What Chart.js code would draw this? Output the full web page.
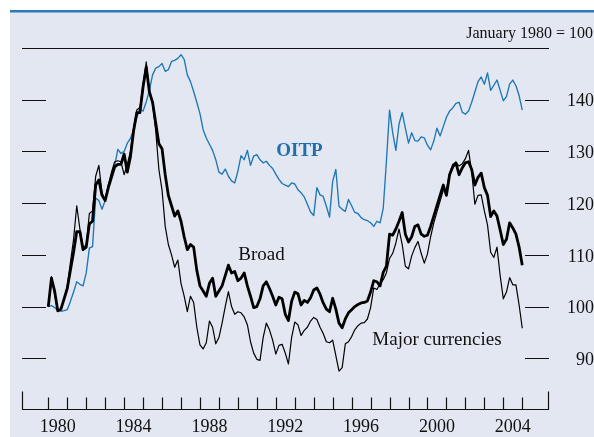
<!DOCTYPE html>
<html>
<head>
<meta charset="utf-8">
<script src="https://cdn.jsdelivr.net/npm/chart.js@4.4.1/dist/chart.umd.min.js"></script>
<style>
  html, body { margin: 0; padding: 0; background: #fff; }
  canvas { display: block; }
</style>
</head>
<body>
<canvas id="dollarChart" width="594" height="437"></canvas>
<script>
// index values, January 1980 = 100, one reading every two months from Jan 1980
const startYear = 1980;
const stepYears = 1 / 6;

const broad = [
  100, 105.5, 103, 99.2, 99.5, 101.5,
  103.5, 107, 110.5, 114.5, 114.5, 111,
  111.5, 116, 116.5, 123.5, 124.5, 121.5,
  120.5, 123, 125, 127, 127.5, 127.5,
  129.5, 126, 129, 134, 137.5, 137.5,
  142.5, 146.3, 141.5, 139.5, 135.5, 131.5,
  130.5, 125.5, 121.5, 119.5, 117.5, 118.5,
  116.5, 113.5, 111, 112, 111.5, 107,
  104, 103, 102, 104.5, 105.5, 102,
  103, 104, 106, 108, 106.5, 106.8,
  105, 105.5, 106.5, 104, 102, 99.8,
  100, 101.5, 104, 104.8, 103.5, 102,
  100.3, 101.8, 101.5, 98.5, 97.3, 101,
  102.8, 102.5, 100.3, 101.2, 100.8, 101.7,
  103.2, 103.6, 102.4, 100.7, 99.5, 99,
  101.6, 99.5, 96.8, 95.9, 97.6, 98.8,
  99.4, 100, 100.4, 100.7, 100.8, 101.1,
  102.8, 105, 104.8, 104, 106.6, 107.8,
  114, 113.8, 115, 116.5, 118.2, 114,
  112.5, 113.5, 115.5, 115.8, 114, 113.6,
  113.8, 115.5, 117.5, 119.5, 121.5, 123.5,
  121.5, 125.5, 127, 127.8, 125.5, 126.8,
  127.8, 128, 126.5, 123.5, 125, 125.8,
  123, 121.5, 117.4, 118.5, 117.5, 114.8,
  112, 113, 116.2, 115.2, 114, 111.5,
  108
];

const majorCurrencies = [
  100, 105.8, 102.5, 99, 99.5, 101.5,
  104, 108.5, 113, 119.5, 115, 111.5,
  111.8, 118, 118.5, 125.2, 127.3, 122,
  120.5, 123.5, 126, 128, 128.2, 128,
  125.5, 127.5, 130, 134.5, 138, 138.5,
  143, 147.3, 141.5, 139.2, 134, 126.5,
  122.5, 115.5, 112, 110, 107.6, 109,
  104.5, 102, 99, 102, 100.8, 96,
  92.6, 91.8, 93, 97.2, 96, 92.8,
  94, 96.8, 100, 102.9, 100, 98.5,
  99, 98.8, 98, 96.5, 93.2, 91,
  89.8, 89.6, 94, 96.8, 95.5, 93.5,
  90.8, 92.5, 92.7, 91, 88.9, 94,
  97, 96.5, 94.4, 95.4, 96, 97.2,
  97.9, 97.5, 96, 94.8, 93.2, 93,
  93.5, 90.5, 87.5, 88.2, 92.8, 93.2,
  94.2, 95.5, 96.3, 96.8, 96.9, 97.6,
  99.8, 103.6, 103.3, 104.4, 105.2, 106.5,
  109.3, 110.3, 112.3, 115, 112, 107.8,
  107.3, 109.8, 111.4, 112.6, 110.3, 108.4,
  110.2, 113.5, 116.2, 118.3, 120.4, 122.5,
  122.5, 125.8, 127.5, 127.8, 127.2, 127.6,
  128.6, 130.2, 126, 119.8, 121.5, 121.6,
  118.5, 115.8, 110.5, 109.5, 111.5, 106,
  101.5, 102.8, 105.6, 104.2, 104.2, 100.3,
  95.8
];

const oitp = [
  100, 100.2, 99.8, 99.3, 99.1, 99.2,
  99.4, 101, 102.8, 104.8, 104.3, 104,
  106.5, 111.3, 111.6, 121, 120.5, 118.8,
  120.5, 123.6, 125.3, 127.2, 130.4, 129.6,
  130, 131.6, 132.5, 134.2, 136.5, 138.2,
  137.8, 139.6, 141.8, 144.8, 146.1, 146.4,
  147, 145.5, 145.8, 147.4, 147.6, 148,
  148.7, 147.8, 144.8, 143.5, 141.6, 139.5,
  137.3, 134.2, 132.6, 131.4, 130.2, 128.4,
  126, 125.6, 126.6, 125.2, 124.3, 123.9,
  126.2, 129.2, 128.4, 130.2, 127.3, 129.1,
  129.4, 128.4, 127.8, 128.1, 127.3, 126.7,
  125.6, 124.6, 123.8, 123.5, 123.2, 123.9,
  123.7, 122.6, 122, 121.2, 119.8, 118.3,
  117.6, 123, 121.6, 121.3, 119.4, 117.3,
  124.2, 126.5, 119.4, 118.8, 118.4, 120.7,
  119.5, 118.2, 118, 117.2, 116.8, 116.6,
  116.2, 115.5, 116.5, 116.2, 119, 128,
  138, 133.6, 130.2, 135.3, 137.5, 134.5,
  131.6, 133.6, 132.1, 132, 132.8, 132.6,
  131.2, 130.3, 132, 134.5, 133, 134.8,
  136.6, 137.8, 138.4, 139.3, 139.5, 137.6,
  137.2, 137.8, 139.5, 141.5, 143.5, 144.4,
  143, 145.2, 141.8, 142.8, 143.8, 141.8,
  139.8, 140.6, 143, 143.8, 142.7, 140.8,
  138
];

const yearTicks = [1980, 1981, 1982, 1983, 1984, 1985, 1986, 1987, 1988, 1989, 1990, 1991, 1992,
  1993, 1994, 1995, 1996, 1997, 1998, 1999, 2000, 2001, 2002, 2003, 2004, 2005];
const yearLabels = [1980, 1984, 1988, 1992, 1996, 2000, 2004];
const valueTicks = [90, 100, 110, 120, 130, 140];

const seriesLabels = [
  { text: 'OITP', x: 1993.25, y: 130, color: '#1f70aa', bold: true },
  { text: 'Broad', x: 1991.25, y: 110, color: '#111', bold: false },
  { text: 'Major currencies', x: 2000.5, y: 93.5, color: '#111', bold: false }
];

const SERIF = '"Liberation Serif", "Times New Roman", serif';
const BLUE = '#1f77b6';

function toPoints(values) {
  return values.map((v, i) => ({ x: startYear + i * stepYears, y: v }));
}

const frame = {
  id: 'frame',
  beforeDraw(chart) {
    const { ctx, width, height } = chart;
    ctx.save();
    ctx.fillStyle = '#e3e7f1';
    ctx.fillRect(10, 12, width - 10, height - 12);
    ctx.fillStyle = '#2c7bb8';
    ctx.fillRect(10, 10, width - 10, 2.5);
    ctx.restore();
  },
  afterDraw(chart) {
    const { ctx, chartArea: area } = chart;
    const xs = chart.scales.x;
    const ys = chart.scales.y;
    ctx.save();
    ctx.strokeStyle = '#111';
    ctx.lineWidth = 1.2;
    ctx.beginPath();
    // top rule and bottom axis
    const top = Math.round(ys.getPixelForValue(150)) + 0.5;
    ctx.moveTo(area.left, top);
    ctx.lineTo(area.right, top);
    const bottom = Math.round(area.bottom) - 0.5;
    ctx.moveTo(area.left, bottom);
    ctx.lineTo(area.right, bottom);
    // end ticks
    ctx.moveTo(area.left + 0.5, bottom);
    ctx.lineTo(area.left + 0.5, bottom - 18);
    ctx.moveTo(area.right - 0.5, bottom);
    ctx.lineTo(area.right - 0.5, bottom - 18);
    // year ticks
    yearTicks.forEach(yr => {
      const px = Math.round(xs.getPixelForValue(yr)) + 0.5;
      ctx.moveTo(px, bottom);
      ctx.lineTo(px, bottom - 12);
    });
    // value ticks on both sides
    valueTicks.forEach(v => {
      const py = Math.round(ys.getPixelForValue(v)) + 0.5;
      ctx.moveTo(area.left, py);
      ctx.lineTo(area.left + 24, py);
      ctx.moveTo(area.right - 24, py);
      ctx.lineTo(area.right, py);
    });
    ctx.stroke();

    // series names
    ctx.textAlign = 'center';
    ctx.textBaseline = 'middle';
    seriesLabels.forEach(l => {
      ctx.font = (l.bold ? 'bold ' : '') + '19px ' + SERIF;
      ctx.fillStyle = l.color;
      ctx.fillText(l.text, xs.getPixelForValue(l.x), ys.getPixelForValue(l.y));
    });

    // unit note
    ctx.font = '16px ' + SERIF;
    ctx.fillStyle = '#111';
    ctx.textAlign = 'right';
    ctx.textBaseline = 'alphabetic';
    ctx.fillText('January 1980 = 100', chart.width - 1, 38);
    ctx.restore();
  }
};

const ctx = document.getElementById('dollarChart').getContext('2d');

new Chart(ctx, {
  type: 'line',
  data: {
    datasets: [
      {
        label: 'Broad',
        data: toPoints(broad),
        borderColor: '#000',
        borderWidth: 2.8,
        order: 1
      },
      {
        label: 'Major currencies',
        data: toPoints(majorCurrencies),
        borderColor: '#000',
        borderWidth: 1.2,
        order: 2
      },
      {
        label: 'OITP',
        data: toPoints(oitp),
        borderColor: BLUE,
        borderWidth: 1.35,
        order: 3
      }
    ]
  },
  options: {
    responsive: false,
    animation: false,
    events: [],
    layout: { padding: { left: 22, top: 48, right: 0, bottom: 0 } },
    elements: {
      point: { radius: 0 },
      line: { tension: 0, borderJoinStyle: 'round', borderCapStyle: 'butt' }
    },
    plugins: {
      legend: { display: false },
      tooltip: { enabled: false }
    },
    scales: {
      x: {
        type: 'linear',
        min: 1978.613,
        max: 2006.41,
        afterFit: s => { s.height = 27; },
        afterBuildTicks: s => {
          s.ticks = yearLabels.map(y => ({ value: y + 0.5 }));
        },
        grid: { display: false, drawTicks: false },
        border: { display: false },
        ticks: {
          padding: 6,
          maxRotation: 0,
          autoSkip: false,
          color: '#111',
          font: { family: SERIF, size: 18 },
          callback: v => String(Math.floor(v))
        }
      },
      y: {
        position: 'right',
        min: 80,
        max: 150,
        afterFit: s => { s.width = 45; },
        afterBuildTicks: s => {
          s.ticks = valueTicks.map(v => ({ value: v }));
        },
        grid: { display: false, drawTicks: false },
        border: { display: false },
        ticks: {
          crossAlign: 'far',
          padding: 0,
          labelOffset: 2,
          color: '#111',
          font: { family: SERIF, size: 18 }
        }
      }
    }
  },
  plugins: [frame]
});
</script>
</body>
</html>
